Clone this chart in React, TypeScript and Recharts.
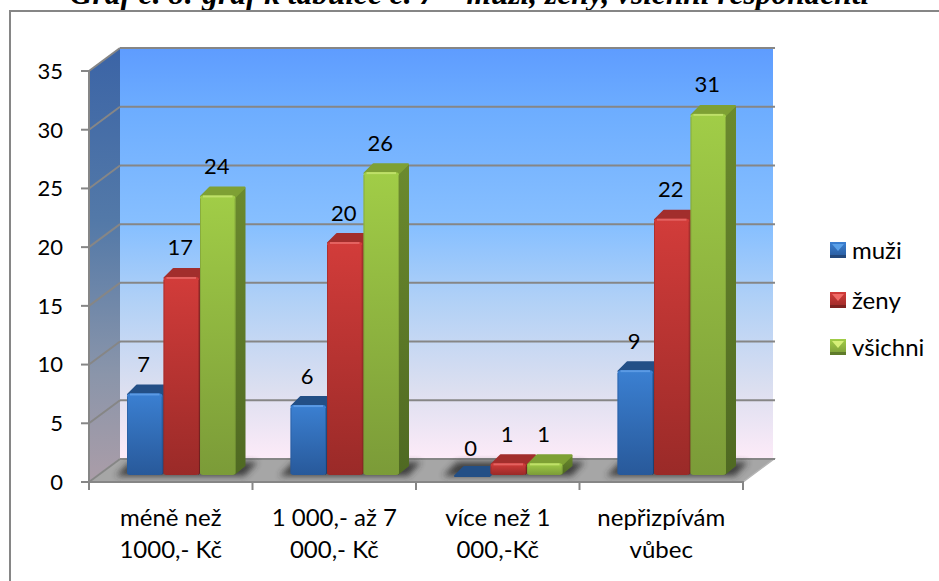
import React from "react";
import { BarChart, Bar, XAxis, YAxis, ReferenceArea, ReferenceLine, Legend, LabelList } from "recharts";

const titleText = "Graf č. 8: graf k tabulce č. 7 – muži, ženy, všichni respondenti";
const categories = ["méně než 1000,- Kč", "1 000,- až 7 000,- Kč", "více než 1 000,-Kč", "nepřizpívám vůbec"];
const categoryLines: Record<string, string[]> = {
  "méně než 1000,- Kč": ["méně než", "1000,- Kč"],
  "1 000,- až 7 000,- Kč": ["1 000,- až 7", "000,- Kč"],
  "více než 1 000,-Kč": ["více než 1", "000,-Kč"],
  "nepřizpívám vůbec": ["nepřizpívám", "vůbec"],
};
const muzi = [7, 6, 0, 9];
const zeny = [17, 20, 1, 22];
const vsichni = [24, 26, 1, 31];
const yTicks = [0, 5, 10, 15, 20, 25, 30, 35];
const data = categories.map((name, i) => ({ name, muzi: muzi[i], zeny: zeny[i], vsichni: vsichni[i] }));

const FONT = "Lato, 'Noto Sans', sans-serif";
const GRID = "#868686";
const WALL_DX = 31;
const WALL_DY = 23;
const BAR_DX = 11;
const BAR_DY = 7;
const DEPTH_X = 10;
const DEPTH_Y = 9;
const Y_SCALE = 0.992;
const BAND = 163.5;
const FS = 22;
const FS_TEXT = 24;

type Palette = { id: string; top: string; bottom: string; side1: string; side2: string; lid: string; hi: string; swatchLight: string; swatchDark: string };
const BLUE: Palette = { id: "b", top: "#3b80d2", bottom: "#28599a", side1: "#24528c", side2: "#1c3f6e", lid: "#234f86", hi: "#5b9ae4", swatchLight: "#5aa0e8", swatchDark: "#23487c" };
const RED: Palette = { id: "r", top: "#d23c3a", bottom: "#9a2a28", side1: "#8e2a28", side2: "#6f1f1e", lid: "#a22e2c", hi: "#e46260", swatchLight: "#f06a66", swatchDark: "#7e2220" };
const GREEN: Palette = { id: "g", top: "#a1cd47", bottom: "#7b9b38", side1: "#6b8a2e", side2: "#4f6922", lid: "#7ea034", hi: "#bfe069", swatchLight: "#d6ef78", swatchDark: "#5f7b2a" };
const PALETTES = [BLUE, RED, GREEN];

function Defs() {
  return (
    <defs>
      <linearGradient id="backWall" x1="0" y1="0" x2="0" y2="1">
        <stop offset="0" stopColor="#5e9cff" />
        <stop offset="0.15" stopColor="#6dadff" />
        <stop offset="0.44" stopColor="#88c0ff" />
        <stop offset="0.62" stopColor="#b2d1f6" />
        <stop offset="0.83" stopColor="#dcdff0" />
        <stop offset="1" stopColor="#fdebf8" />
      </linearGradient>
      <linearGradient id="sideWall" x1="0" y1="0" x2="0" y2="1">
        <stop offset="0" stopColor="#3b64a6" />
        <stop offset="0.4" stopColor="#5379a8" />
        <stop offset="0.75" stopColor="#8a95aa" />
        <stop offset="1" stopColor="#ab9da8" />
      </linearGradient>
      {PALETTES.map((p) => (
        <React.Fragment key={p.id}>
          <linearGradient id={p.id + "Front"} x1="0" y1="0" x2="0" y2="1">
            <stop offset="0" stopColor={p.top} />
            <stop offset="1" stopColor={p.bottom} />
          </linearGradient>
          <linearGradient id={p.id + "Side"} x1="0" y1="0" x2="0" y2="1">
            <stop offset="0" stopColor={p.side1} />
            <stop offset="1" stopColor={p.side2} />
          </linearGradient>
        </React.Fragment>
      ))}
      <filter id="floorShadow" x="-20%" y="-60%" width="140%" height="220%">
        <feGaussianBlur stdDeviation="3" />
      </filter>
    </defs>
  );
}

function Walls(props: any) {
  const { x, y, width, height } = props;
  const b = y + height;
  const r = x + width;
  return (
    <g>
      <Defs />
      <rect x={x + WALL_DX} y={y - WALL_DY} width={width - 1} height={height} fill="url(#backWall)" />
      <polygon points={`${x},${y} ${x + WALL_DX},${y - WALL_DY} ${x + WALL_DX},${b - WALL_DY} ${x},${b}`} fill="url(#sideWall)" />
      <polygon points={`${x},${b} ${x + WALL_DX},${b - WALL_DY} ${r + WALL_DX},${b - WALL_DY} ${r},${b}`} fill="#a6a6a6" stroke="#b4b4b4" strokeWidth={1.5} />
    </g>
  );
}

function GridLine(props: any) {
  const { x1, x2, y1 } = props;
  const by = y1 - WALL_DY;
  return (
    <g>
      <line x1={x1} y1={y1} x2={x1 + WALL_DX} y2={by} stroke={GRID} strokeWidth={2} />
      <line x1={x1 + WALL_DX} y1={by} x2={x2 + WALL_DX + 1} y2={by} stroke={GRID} strokeWidth={2} />
    </g>
  );
}

function makeShape(p: Palette, withShadow: boolean) {
  return function Shape(props: any) {
    const { x, y, width, height } = props;
    const X = x + BAR_DX;
    const w = width - 1;
    const B = y + height - BAR_DY;
    const h = height * Y_SCALE;
    const T = B - h;
    const shadow = withShadow ? (
      <polygon
        points={`${X - 11},${B + 1} ${X + 3},${B - 13} ${X + width * 3 + 21},${B - 13} ${X + width * 3 + 8},${B + 1}`}
        fill="#2e2e2e"
        opacity={0.85}
        filter="url(#floorShadow)"
      />
    ) : null;
    const lid = (
      <polygon
        points={`${X + 1},${T + 1} ${X + DEPTH_X},${T - DEPTH_Y + 1} ${X + w + DEPTH_X - 1},${T - DEPTH_Y + 1} ${X + w},${T + 1}`}
        fill={p.lid}
        stroke={p.lid}
        strokeWidth={2}
        strokeLinejoin="round"
      />
    );
    if (h < 1) {
      return (
        <g>
          {shadow}
          {lid}
        </g>
      );
    }
    return (
      <g>
        {shadow}
        <polygon points={`${X + w - 1},${T + 1} ${X + w + DEPTH_X},${T - DEPTH_Y + 1} ${X + w + DEPTH_X},${B - DEPTH_Y} ${X + w - 1},${B}`} fill={`url(#${p.id}Side)`} />
        {lid}
        <rect x={X} y={T} width={w} height={h} rx={3} ry={3} fill={`url(#${p.id}Front)`} />
        <line x1={X + 3} y1={T + 1} x2={X + w - 3} y2={T + 1} stroke={p.hi} strokeWidth={2} />
        <line x1={X + 0.5} y1={T + 3} x2={X + 0.5} y2={B - 1} stroke={p.bottom} strokeWidth={1} opacity={0.6} />
        <line x1={X + w - 0.5} y1={T + 3} x2={X + w - 0.5} y2={B - 1} stroke={p.bottom} strokeWidth={1} opacity={0.6} />
      </g>
    );
  };
}

function ValueLabel(props: any) {
  const { x, y, width, height, value } = props;
  const B = y + height - BAR_DY;
  const T = B - height * Y_SCALE;
  const shift = value === 0 ? 28 : 30;
  return (
    <text x={x + BAR_DX + width / 2 - 1.5} y={T - shift} textAnchor="middle" dominantBaseline="central" fontFamily={FONT} fontSize={FS} fill="#000">
      {value}
    </text>
  );
}

function CategoryTick(props: any) {
  const { x, y, payload, index } = props;
  const lines = categoryLines[payload.value] || [payload.value];
  return (
    <g>
      <line x1={x - BAND / 2} y1={y - 9} x2={x - BAND / 2} y2={y} stroke={GRID} strokeWidth={2} />
      {index === categories.length - 1 ? <line x1={x + BAND / 2} y1={y - 9} x2={x + BAND / 2} y2={y} stroke={GRID} strokeWidth={2} /> : null}
      {lines.map((t: string, i: number) => (
        <text key={i} x={x} y={y + 26 + i * 32} textAnchor="middle" dominantBaseline="central" fontFamily={FONT} fontSize={FS_TEXT} fill="#000">
          {t}
        </text>
      ))}
    </g>
  );
}

function Swatch({ p }: { p: Palette }) {
  return (
    <svg width={16} height={16} style={{ display: "block" }}>
      <defs>
        <linearGradient id={`sw${p.id}`} x1="0" y1="0" x2="0" y2="1">
          <stop offset="0" stopColor={p.top} />
          <stop offset="1" stopColor={p.bottom} />
        </linearGradient>
      </defs>
      <rect x={0} y={0} width={16} height={16} fill={`url(#sw${p.id})`} />
      <polygon points="2,2 14,2 8,9" fill={p.swatchLight} />
      <rect x={0} y={13} width={16} height={3} fill={p.swatchDark} />
    </svg>
  );
}

const LEGEND_TOPS = [242, 291.5, 339];

function LegendContent(props: any) {
  const items = props.payload || [];
  return (
    <div style={{ position: "absolute", left: 0, top: 0, width: 0, height: 0 }}>
      {items.map((it: any, i: number) => (
        <div key={i} style={{ position: "absolute", left: 830, top: LEGEND_TOPS[i], whiteSpace: "nowrap" }}>
          <Swatch p={PALETTES[i]} />
          <span style={{ position: "absolute", left: 22, top: 8, transform: "translateY(-50%)", fontFamily: FONT, fontSize: FS_TEXT, color: "#000", lineHeight: 1 }}>
            {it.value}
          </span>
        </div>
      ))}
    </div>
  );
}

const shapes = [makeShape(BLUE, true), makeShape(RED, false), makeShape(GREEN, false)];

export default function App() {
  return (
    <div style={{ position: "absolute", left: 0, top: 0, width: 939, height: 581, overflow: "hidden", background: "#fff" }}>
      <div style={{ position: "absolute", left: 0, right: 0, top: -20, textAlign: "center", fontFamily: "'Liberation Serif', serif", fontWeight: "bold", fontStyle: "italic", fontSize: 31.4, lineHeight: "28px", whiteSpace: "nowrap", color: "#000" }}>
        {titleText}
      </div>
      <div style={{ position: "absolute", left: 9, top: 10, width: 1000, height: 700, border: "2px solid #868686", boxSizing: "border-box" }} />
      <BarChart
        width={939}
        height={581}
        data={data}
        margin={{ left: 60, right: 196, top: 71, bottom: 0 }}
        barSize={36.5}
        barGap={0}
        style={{ position: "absolute", left: 0, top: 0 }}
      >
        <ReferenceArea y1={0} y2={35} shape={Walls} ifOverflow="visible" zIndex={100} />
        {yTicks.map((t) => (
          <ReferenceLine key={t} y={t} shape={GridLine as any} ifOverflow="visible" zIndex={150} />
        ))}
        <XAxis dataKey="name" height={99} interval={0} tickLine={false} axisLine={{ stroke: GRID, strokeWidth: 2 }} tick={CategoryTick as any} />
        <YAxis
          width={29}
          domain={[0, 35]}
          ticks={yTicks}
          interval={0}
          tickSize={8}
          tickMargin={18}
          tickLine={{ stroke: GRID, strokeWidth: 2 }}
          axisLine={{ stroke: GRID, strokeWidth: 2 }}
          tick={{ fontFamily: FONT, fontSize: FS, fill: "#000" }}
        />
        <Legend itemSorter={null as any} content={LegendContent as any} wrapperStyle={{ position: "absolute", left: 0, top: 0, width: 0, height: 0 }} />
        <Bar dataKey="muzi" name="muži" fill={BLUE.top} shape={shapes[0]} isAnimationActive={false}>
          <LabelList dataKey="muzi" content={ValueLabel as any} />
        </Bar>
        <Bar dataKey="zeny" name="ženy" fill={RED.top} shape={shapes[1]} isAnimationActive={false}>
          <LabelList dataKey="zeny" content={ValueLabel as any} />
        </Bar>
        <Bar dataKey="vsichni" name="všichni" fill={GREEN.top} shape={shapes[2]} isAnimationActive={false}>
          <LabelList dataKey="vsichni" content={ValueLabel as any} />
        </Bar>
      </BarChart>
    </div>
  );
}
